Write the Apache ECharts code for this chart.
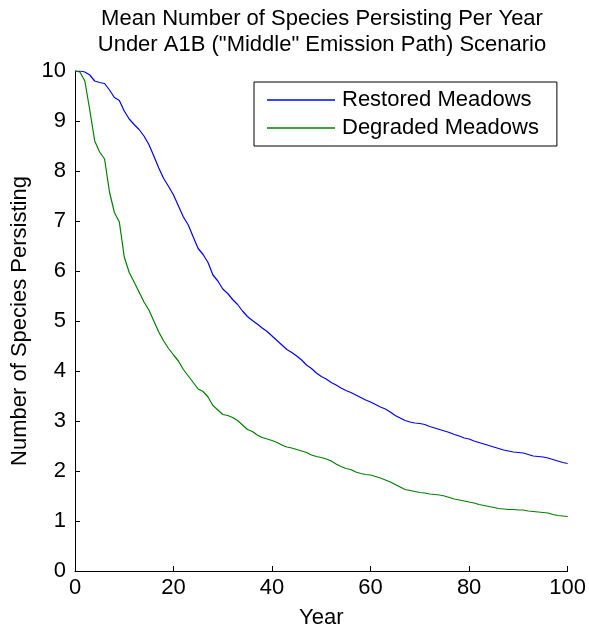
<!DOCTYPE html>
<html>
<head>
<meta charset="utf-8">
<script src="https://cdn.jsdelivr.net/npm/echarts@6/dist/echarts.min.js"></script>
<style>
  html, body { margin: 0; padding: 0; background: #fff; }
  #chart { width: 589px; height: 634px; }
</style>
</head>
<body>
<div id="chart"></div>
<script>
// Years 0..100
const years = Array.from({ length: 101 }, (_, i) => i);

// Mean number of species persisting, restored meadows
const restored = [
  10.00, 10.00, 9.98, 9.92, 9.80, 9.77, 9.75, 9.62, 9.47, 9.41,
  9.20, 9.04, 8.93, 8.83, 8.70, 8.53, 8.30, 8.06, 7.85, 7.69,
  7.52, 7.30, 7.08, 6.92, 6.68, 6.45, 6.33, 6.17, 5.92, 5.80,
  5.64, 5.55, 5.43, 5.33, 5.20, 5.09, 5.01, 4.94, 4.86, 4.79,
  4.70, 4.61, 4.52, 4.43, 4.37, 4.30, 4.22, 4.12, 4.05, 3.96,
  3.89, 3.84, 3.77, 3.72, 3.66, 3.61, 3.57, 3.52, 3.47, 3.42,
  3.38, 3.33, 3.28, 3.24, 3.18, 3.11, 3.06, 3.01, 2.98, 2.96,
  2.95, 2.93, 2.89, 2.86, 2.83, 2.80, 2.77, 2.73, 2.70, 2.66,
  2.64, 2.60, 2.57, 2.54, 2.51, 2.48, 2.45, 2.42, 2.40, 2.38,
  2.37, 2.36, 2.33, 2.30, 2.29, 2.28, 2.26, 2.23, 2.20, 2.17,
  2.15
];

// Mean number of species persisting, degraded meadows
const degraded = [
  10.00, 9.98, 9.80, 9.22, 8.60, 8.38, 8.24, 7.58, 7.17, 6.98,
  6.28, 5.97, 5.78, 5.58, 5.38, 5.22, 5.00, 4.78, 4.60, 4.45,
  4.32, 4.20, 4.03, 3.90, 3.77, 3.64, 3.59, 3.48, 3.31, 3.22,
  3.13, 3.11, 3.07, 3.01, 2.92, 2.83, 2.79, 2.72, 2.67, 2.64,
  2.61, 2.57, 2.52, 2.48, 2.46, 2.43, 2.40, 2.37, 2.32, 2.29,
  2.27, 2.24, 2.20, 2.14, 2.09, 2.05, 2.03, 1.98, 1.95, 1.93,
  1.92, 1.89, 1.86, 1.82, 1.78, 1.73, 1.68, 1.63, 1.61, 1.59,
  1.57, 1.56, 1.54, 1.53, 1.52, 1.50, 1.47, 1.44, 1.42, 1.40,
  1.38, 1.36, 1.33, 1.31, 1.29, 1.27, 1.25, 1.24, 1.23, 1.23,
  1.22, 1.22, 1.20, 1.19, 1.18, 1.17, 1.16, 1.13, 1.11, 1.10,
  1.09
];

const seriesNames = ['Restored Meadows', 'Degraded Meadows'];
const seriesColors = ['#0000ff', '#008000'];
const titleLines = ['Mean Number of Species Persisting Per Year', 'Under A1B ("Middle" Emission Path) Scenario'];

const FONT = '"Liberation Sans", Arial, Helvetica, sans-serif';
const FS = 22;
const chart = echarts.init(document.getElementById('chart'), null, { renderer: 'canvas' });

const axisCommon = {
  axisLine: { show: true, lineStyle: { color: '#000', width: 1 } },
  axisTick: { show: true, inside: true, length: 5, lineStyle: { color: '#000', width: 1 } },
  axisLabel: { color: '#000', fontFamily: FONT, fontSize: FS },
  splitLine: { show: false },
  nameTextStyle: { color: '#000', fontFamily: FONT, fontSize: FS }
};

chart.setOption({
  animation: false,
  backgroundColor: '#fff',
  title: {
    text: titleLines.join('\n'),
    left: 322,
    textAlign: 'center',
    top: 6,
    padding: 0,
    textStyle: { color: '#000', fontFamily: FONT, fontSize: FS, fontWeight: 'normal', lineHeight: 26 }
  },
  grid: { left: 75, right: 21, top: 71, bottom: 61, containLabel: false },
  legend: {
    orient: 'vertical',
    left: 254,
    top: 82,
    padding: [7, 18, 7, 13],
    icon: 'rect',
    itemWidth: 68,
    itemHeight: 1.3,
    itemGap: 6,
    borderColor: '#000',
    borderWidth: 1,
    borderRadius: 0,
    backgroundColor: '#fff',
    textStyle: { color: '#000', fontFamily: FONT, fontSize: FS, lineHeight: 22, padding: [0, 0, 0, 2] },
    data: seriesNames.map((n, i) => ({ name: n, itemStyle: { color: seriesColors[i] } }))
  },
  xAxis: Object.assign({}, axisCommon, {
    type: 'value',
    min: 0, max: 100, interval: 20,
    name: 'Year',
    nameLocation: 'middle',
    nameGap: 36,
    axisLabel: Object.assign({}, axisCommon.axisLabel, { margin: 6 })
  }),
  yAxis: Object.assign({}, axisCommon, {
    type: 'value',
    min: 0, max: 10, interval: 1,
    name: 'Number of Species Persisting',
    nameLocation: 'middle',
    nameGap: 44,
    axisLabel: Object.assign({}, axisCommon.axisLabel, { margin: 9 })
  }),
  series: [
    {
      name: seriesNames[0],
      type: 'line',
      data: years.map((y, i) => [y, restored[i]]),
      symbol: 'none',
      lineStyle: { color: seriesColors[0], width: 1.2 },
      itemStyle: { color: seriesColors[0] }
    },
    {
      name: seriesNames[1],
      type: 'line',
      data: years.map((y, i) => [y, degraded[i]]),
      symbol: 'none',
      lineStyle: { color: seriesColors[1], width: 1.2 },
      itemStyle: { color: seriesColors[1] }
    }
  ]
});
</script>
</body>
</html>
